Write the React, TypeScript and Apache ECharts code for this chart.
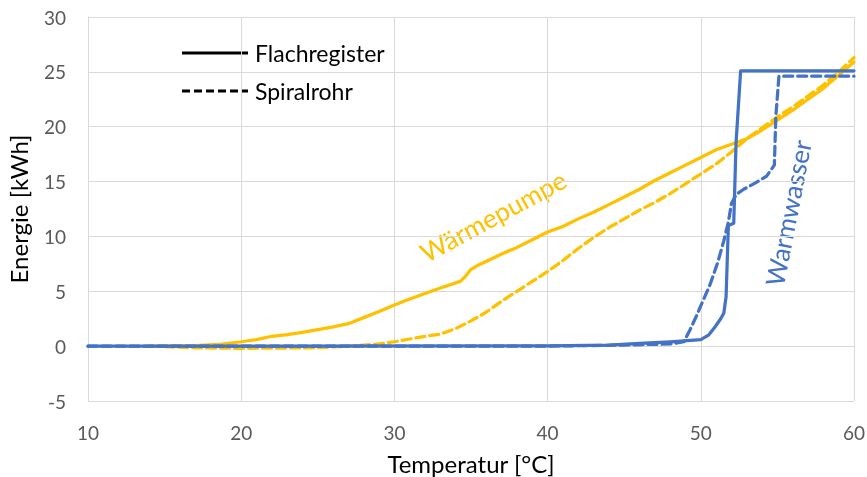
import React, { useEffect, useRef } from "react";
import * as echarts from "echarts";

const xTicks = [10, 20, 30, 40, 50, 60];

const wpFlachX = [14, 17, 18.5, 20, 21, 22, 23, 24, 25, 26, 27, 28, 29, 30, 31, 32, 33, 34.3, 34.6, 35, 35.5, 37, 38, 39, 40, 41, 42, 43, 44, 45, 46, 47, 48, 49, 50, 51, 52, 53, 54, 55, 56, 57, 58, 59, 60];
const wpFlachY = [0, 0.05, 0.15, 0.4, 0.6, 0.9, 1.05, 1.25, 1.5, 1.75, 2.05, 2.6, 3.15, 3.75, 4.3, 4.8, 5.3, 5.9, 6.3, 7.0, 7.4, 8.4, 9.0, 9.7, 10.4, 10.9, 11.6, 12.2, 12.9, 13.6, 14.3, 15.1, 15.8, 16.5, 17.2, 17.9, 18.4, 18.9, 19.7, 20.6, 21.5, 22.5, 23.5, 24.7, 25.9];

const wpSpiralX = [15, 17, 20, 25, 27, 28, 29, 30, 31, 32, 33, 34, 35, 36, 37, 38, 39, 40, 41, 42, 43, 44, 45, 46, 47, 48, 49, 50, 51, 52, 53, 54, 55, 56, 57, 58, 59, 60];
const wpSpiralY = [-0.05, -0.15, -0.2, -0.15, 0, 0.1, 0.2, 0.4, 0.65, 0.9, 1.1, 1.6, 2.3, 3.1, 4.1, 5.0, 5.9, 6.8, 7.8, 8.9, 9.9, 10.8, 11.6, 12.4, 13.1, 13.9, 14.8, 15.7, 16.6, 17.7, 18.9, 19.9, 20.9, 21.8, 22.8, 23.8, 25.0, 26.3];

const wwFlachX = [10, 40, 44, 46, 48, 50, 50.5, 50.9, 51.3, 51.5, 51.65, 51.8, 52.15, 52.3, 52.6, 60];
const wwFlachY = [0, 0.02, 0.1, 0.25, 0.4, 0.6, 1.0, 1.7, 2.5, 3.0, 4.5, 11.0, 11.2, 18.5, 25.1, 25.1];

const wwSpiralX = [10, 40, 45, 48, 48.9, 49.3, 49.7, 50.1, 50.6, 51.1, 51.5, 51.8, 52.0, 52.3, 52.8, 53.6, 54.3, 54.8, 54.9, 55.1, 60];
const wwSpiralY = [0, 0, 0.1, 0.2, 0.4, 1.5, 2.7, 4.0, 5.6, 7.6, 9.6, 11.3, 13.0, 13.8, 14.3, 14.9, 15.5, 16.5, 21, 24.6, 24.6];

const pairs = (xs: number[], ys: number[]) => xs.map((x, i) => [x, ys[i]]);

const YELLOW = "#FFC000";
const BLUE = "#4472C4";
const FONT = "Lato";
const DASH = [9, 5];

export default function App() {
  const ref = useRef<HTMLDivElement>(null);
  useEffect(() => {
    if (!ref.current) return;
    const chart = echarts.init(ref.current, null, { renderer: "svg" });
    const lineSeries = (name: string, data: number[][], color: string, dashed: boolean) => ({
      name,
      type: "line",
      data,
      showSymbol: false,
      symbol: "none",
      lineStyle: { color, width: 3.25, type: dashed ? DASH : "solid", cap: "round", join: "round" },
    });
    chart.setOption({
      animation: false,
      textStyle: { fontFamily: FONT },
      grid: { left: 88, right: 13, top: 17, bottom: 76, containLabel: false, outerBoundsMode: "none" },
      xAxis: {
        type: "value",
        min: xTicks[0],
        max: xTicks[xTicks.length - 1],
        interval: 10,
        name: "Temperatur [°C]",
        nameLocation: "middle",
        nameGap: 50,
        nameTextStyle: { color: "#000", fontSize: 24, fontFamily: FONT },
        axisLine: { show: true, lineStyle: { color: "#d9d9d9", width: 1 } },
        axisTick: { show: false },
        axisLabel: { color: "#595959", fontSize: 19, margin: 22, fontFamily: FONT },
        splitLine: { show: true, lineStyle: { color: "#d9d9d9", width: 1 } },
      },
      yAxis: {
        type: "value",
        min: -5,
        max: 30,
        interval: 5,
        name: "Energie [kWh]",
        nameLocation: "middle",
        nameGap: 58,
        nameTextStyle: { color: "#000", fontSize: 24, fontFamily: FONT },
        axisLine: { show: true, lineStyle: { color: "#d9d9d9", width: 1 } },
        axisTick: { show: false },
        axisLabel: { color: "#595959", fontSize: 19, margin: 22, fontFamily: FONT },
        splitLine: { show: true, lineStyle: { color: "#d9d9d9", width: 1 } },
      },
      series: [
        lineSeries("Wärmepumpe Spiralrohr", pairs(wpSpiralX, wpSpiralY), YELLOW, true),
        lineSeries("Wärmepumpe Flachregister", pairs(wpFlachX, wpFlachY), YELLOW, false),
        lineSeries("Warmwasser Spiralrohr", pairs(wwSpiralX, wwSpiralY), BLUE, true),
        lineSeries("Warmwasser Flachregister", pairs(wwFlachX, wwFlachY), BLUE, false),
      ],
      graphic: [
        { type: "line", shape: { x1: 182, y1: 53, x2: 248, y2: 53 }, style: { stroke: "#000", lineWidth: 3 } },
        { type: "text", x: 255, y: 53, style: { text: "Flachregister", fill: "#000", font: `23px ${FONT}`, verticalAlign: "middle" } },
        { type: "line", shape: { x1: 182, y1: 91, x2: 248, y2: 91 }, style: { stroke: "#000", lineWidth: 3, lineDash: [8, 4] } },
        { type: "text", x: 255, y: 91, style: { text: "Spiralrohr", fill: "#000", font: `23px ${FONT}`, verticalAlign: "middle" } },
        { type: "text", x: 493, y: 216, rotation: (28.5 * Math.PI) / 180, style: { text: "Wärmepumpe", fill: YELLOW, font: `26px ${FONT}`, align: "center", verticalAlign: "middle" } },
        { type: "text", x: 788, y: 213, rotation: (79 * Math.PI) / 180, style: { text: "Warmwasser", fill: BLUE, font: `26px ${FONT}`, align: "center", verticalAlign: "middle" } },
      ],
    });
    return () => chart.dispose();
  }, []);
  return <div ref={ref} style={{ position: "fixed", left: 0, top: 0, width: 867, height: 477 }} />;
}
